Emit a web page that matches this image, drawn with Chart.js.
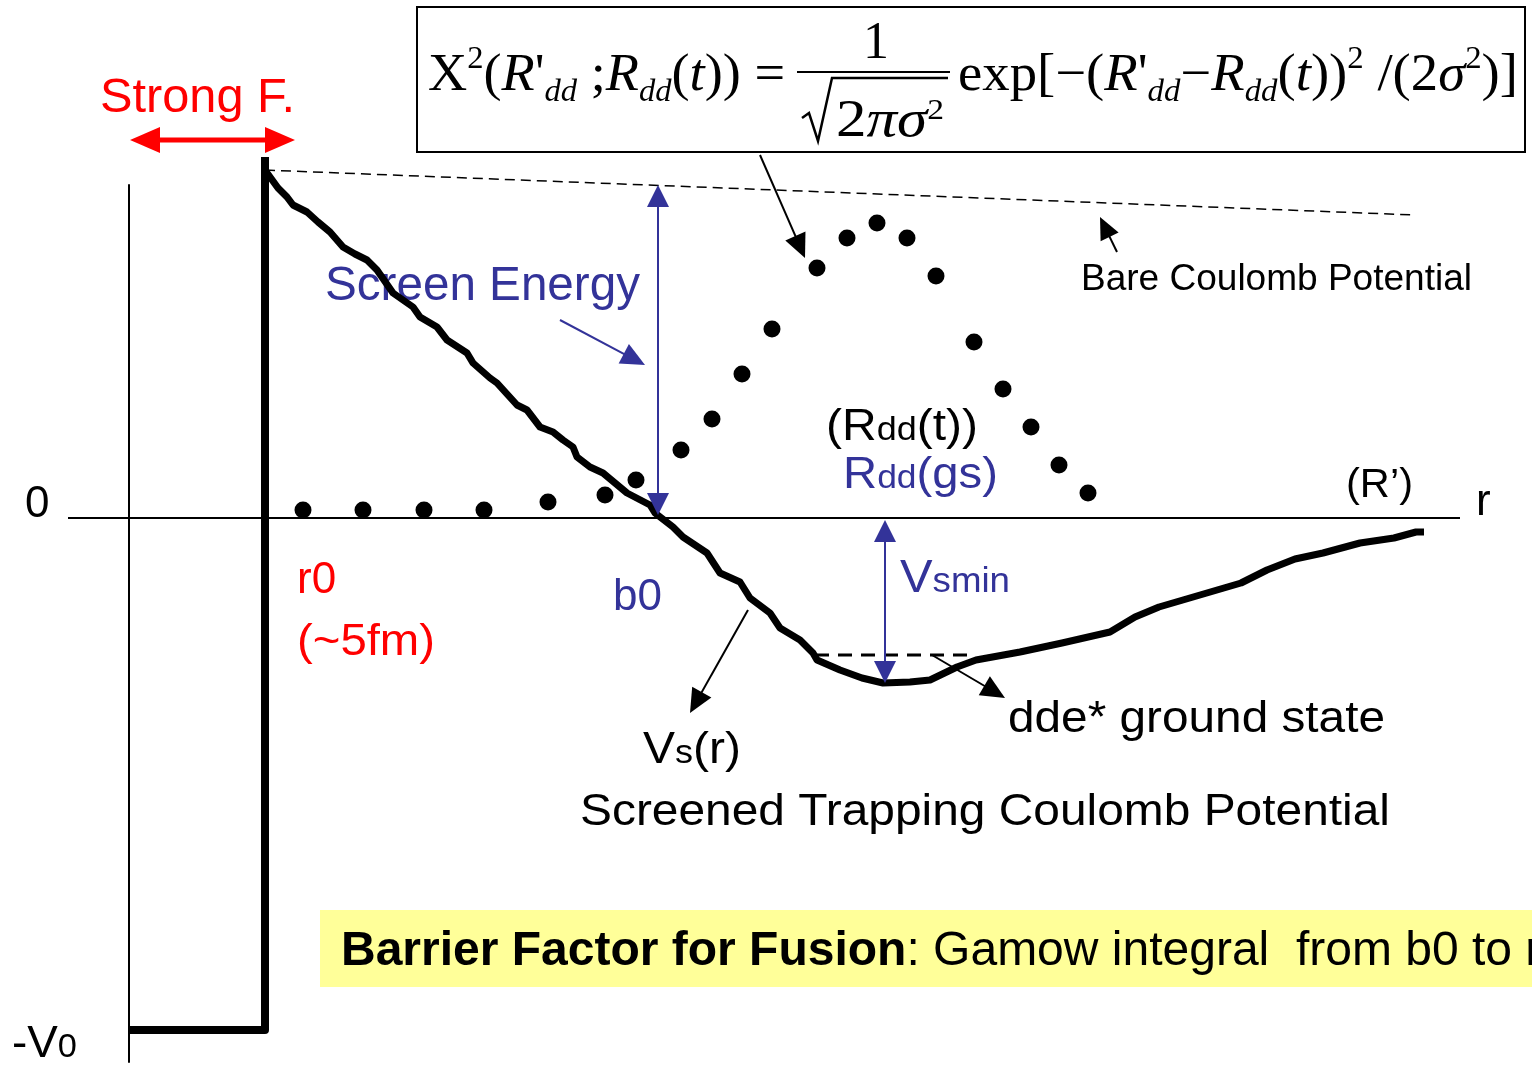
<!DOCTYPE html>
<html>
<head>
<meta charset="utf-8">
<script src="https://cdn.jsdelivr.net/npm/chart.js@4.4.1/dist/chart.umd.min.js"></script>
<style>
  html, body { margin: 0; padding: 0; background: #fff; }
  #wrap { width: 1532px; height: 1065px; position: relative; }
</style>
</head>
<body>
<div id="wrap"><canvas id="grafico"></canvas></div>
<script>
// r in drawing units, V with 0 on the r axis
const rAxis = [68, 1460];
const vAxis = [0, 0];

const wellR = [129, 129];
const wellV = [333, -544];

const boxR = [129, 265, 265];
const boxV = [-512, -512, 361];

const bareR = [265, 1415];
const bareV = [348, 303];

const vsR = [265, 270, 278, 287, 293, 307, 318, 330, 343, 355, 367, 377, 393, 413, 420, 437, 447, 467, 473, 490,
  497, 517, 527, 540, 553, 563, 573, 577, 590, 603, 627, 650, 655, 673, 683, 707, 720, 740, 750, 770,
  780, 800, 813, 817, 840, 862, 883, 910, 930, 957, 976, 1020, 1062, 1110, 1135, 1159, 1200, 1241, 1267, 1295,
  1323, 1360, 1394, 1416, 1424];
const vsV = [348, 341, 330, 321, 313, 306, 296, 286, 271, 264, 258, 248, 225, 211, 201, 191, 178, 165, 155, 140,
  135, 113, 108, 91, 86, 78, 71, 61, 51, 45, 25, 13, 5, -9, -19, -35, -55, -64, -80, -95,
  -110, -122, -135, -142, -152, -160, -165, -164, -162, -149, -142, -134, -125, -114, -99, -89, -77, -65, -52, -41,
  -35, -25, -20, -14, -14];

const gsR = [815, 975];
const gsV = [-137, -137];

const dotR = [303, 363, 424, 484, 548, 605, 636, 681, 712, 742, 772, 817, 847, 877, 907, 936, 974, 1003, 1031, 1059, 1088];
const dotV = [8, 8, 8, 8, 16, 23, 38, 68, 99, 144, 189, 250, 280, 295, 280, 242, 176, 129, 91, 53, 25];

function pts(xs, ys) {
    return xs.map(function (x, i) { return { x: x, y: ys[i] }; });
}

function linha(xs, ys, w, dash) {
    return {
        data: pts(xs, ys),
        showLine: true,
        borderColor: '#000',
        borderWidth: w,
        borderDash: dash || [],
        pointRadius: 0,
        tension: 0,
        borderJoinStyle: 'round',
        borderCapStyle: 'butt',
        fill: false
    };
}

const SANS = '"Liberation Sans", Arial, sans-serif';
const SERIF = '"Liberation Serif", "Times New Roman", serif';

// rich text: segs = [text, {sub, sup, it, b, s, dy}]
function rich(ctx, segs, x, y, size, color, fam, width) {
    function fnt(o) {
        let s = size * (o.s || ((o.sub || o.sup) ? 0.6 : 1));
        return (o.it ? 'italic ' : '') + (o.b ? 'bold ' : '') + s + 'px ' + fam;
    }
    let total = 0;
    segs.forEach(function (sg) {
        ctx.font = fnt(sg[1]);
        total += ctx.measureText(sg[0]).width;
    });
    ctx.save();
    ctx.translate(x, y);
    if (width) ctx.scale(width / total, 1);
    ctx.fillStyle = color;
    ctx.textBaseline = 'alphabetic';
    ctx.textAlign = 'left';
    let cx = 0;
    segs.forEach(function (sg) {
        const o = sg[1];
        ctx.font = fnt(o);
        let dy = o.sub ? size * 0.22 : (o.sup ? -size * 0.42 : (o.dy || 0) * size);
        ctx.fillText(sg[0], cx, dy);
        cx += ctx.measureText(sg[0]).width;
    });
    ctx.restore();
}

function seta(ctx, x1, y1, x2, y2, color, lw, hl, hw, both) {
    const a = Math.atan2(y2 - y1, x2 - x1);
    function cabeca(px, py, ang) {
        ctx.beginPath();
        ctx.moveTo(px, py);
        ctx.lineTo(px - hl * Math.cos(ang) + hw * Math.sin(ang), py - hl * Math.sin(ang) - hw * Math.cos(ang));
        ctx.lineTo(px - hl * Math.cos(ang) - hw * Math.sin(ang), py - hl * Math.sin(ang) + hw * Math.cos(ang));
        ctx.closePath();
        ctx.fill();
    }
    ctx.save();
    ctx.strokeStyle = color;
    ctx.fillStyle = color;
    ctx.lineWidth = lw;
    ctx.beginPath();
    ctx.moveTo(x1 + (both ? hl * 0.8 * Math.cos(a) : 0), y1 + (both ? hl * 0.8 * Math.sin(a) : 0));
    ctx.lineTo(x2 - hl * 0.8 * Math.cos(a), y2 - hl * 0.8 * Math.sin(a));
    ctx.stroke();
    cabeca(x2, y2, a);
    if (both) cabeca(x1, y1, a + Math.PI);
    ctx.restore();
}

const BLUE = '#333399';
const RED = '#ff0000';

const anotacoes = {
    id: 'anotacoes',
    beforeDatasetsDraw: function (chart) {
        const ctx = chart.ctx;
        const X = function (v) { return chart.scales.x.getPixelForValue(v); };
        const Y = function (v) { return chart.scales.y.getPixelForValue(v); };
        // yellow box
        ctx.save();
        ctx.fillStyle = '#ffff99';
        ctx.fillRect(X(320), Y(-392), X(1540) - X(320), Y(-469) - Y(-392));
        ctx.restore();
        rich(ctx, [['Barrier Factor for Fusion', { b: 1 }], [': Gamow integral  from b0 to r', {}]],
            X(341), Y(-447), 48, '#000', SANS);
        rich(ctx, [['Screen Energy', {}]], X(325), Y(218), 48, BLUE, SANS, X(640) - X(325));
    },
    afterDatasetsDraw: function (chart) {
        const ctx = chart.ctx;
        const X = function (v) { return chart.scales.x.getPixelForValue(v); };
        const Y = function (v) { return chart.scales.y.getPixelForValue(v); };

        // formula box
        ctx.save();
        ctx.strokeStyle = '#000';
        ctx.lineWidth = 2;
        ctx.strokeRect(X(417), Y(511), X(1525) - X(417), Y(366) - Y(511));
        ctx.restore();

        const fs = 52;
        rich(ctx, [['X', {}], ['2', { sup: 1 }], ['(', {}], ['R', { it: 1 }], ["'", {}], ['dd', { sub: 1, it: 1 }],
            [' ;', {}], ['R', { it: 1 }], ['dd', { sub: 1, it: 1 }], ['(', {}], ['t', { it: 1 }], ['))', {}], [' =', {}]],
            X(428), Y(428), fs, '#000', SERIF, X(785) - X(428));
        rich(ctx, [['1', {}]], X(863), Y(460), fs, '#000', SERIF);
        ctx.save();
        ctx.strokeStyle = '#000';
        ctx.lineWidth = 2;
        ctx.beginPath();
        ctx.moveTo(X(797), Y(446));
        ctx.lineTo(X(950), Y(446));
        ctx.stroke();
        ctx.lineWidth = 2.5;
        ctx.beginPath();
        ctx.moveTo(X(802), Y(400));
        ctx.lineTo(X(809), Y(405));
        ctx.lineTo(X(818), Y(377));
        ctx.lineTo(X(832), Y(440));
        ctx.lineTo(X(948), Y(440));
        ctx.stroke();
        ctx.restore();
        rich(ctx, [['2', {}], ['π', { it: 1 }], ['σ', { it: 1 }], ['2', { s: 0.55, dy: -0.32 }]],
            X(836), Y(382), fs, '#000', SERIF, X(944) - X(836));
        rich(ctx, [['exp[−(', {}], ['R', { it: 1 }], ["'", {}], ['dd', { sub: 1, it: 1 }], ['−', {}], ['R', { it: 1 }],
            ['dd', { sub: 1, it: 1 }], ['(', {}], ['t', { it: 1 }], ['))', {}], ['2', { sup: 1 }], [' /(2', {}],
            ['σ', { it: 1 }], ['2', { sup: 1 }], [')]', {}]],
            X(958), Y(428), fs, '#000', SERIF, X(1518) - X(958));

        // labels
        rich(ctx, [['Strong F.', {}]], X(100), Y(406), 48, RED, SANS, X(295) - X(100));
        rich(ctx, [['Bare Coulomb Potential', {}]], X(1081), Y(228), 37, '#000', SANS, X(1472) - X(1081));
        rich(ctx, [['(R', {}], ['dd', { s: 0.75 }], ['(t))', {}]], X(826), Y(78), 44, '#000', SANS, X(978) - X(826));
        rich(ctx, [['R', {}], ['dd', { s: 0.75 }], ['(gs)', {}]], X(843), Y(30), 44, BLUE, SANS, X(998) - X(843));
        rich(ctx, [['(R’)', {}]], X(1346), Y(21), 40, '#000', SANS, X(1413) - X(1346));
        rich(ctx, [['r', {}]], X(1476), Y(3), 44, '#000', SANS);
        rich(ctx, [['0', {}]], X(25), Y(1), 44, '#000', SANS);
        rich(ctx, [['-V', {}], ['0', { s: 0.75 }]], X(12), Y(-539), 44, '#000', SANS, X(77) - X(12));
        rich(ctx, [['r0', {}]], X(297), Y(-75), 44, RED, SANS);
        rich(ctx, [['(~5fm)', {}]], X(297), Y(-137), 44, RED, SANS, X(435) - X(297));
        rich(ctx, [['b0', {}]], X(613), Y(-92), 44, BLUE, SANS);
        rich(ctx, [['V', {}], ['smin', { s: 0.75 }]], X(900), Y(-74), 46, BLUE, SANS, X(1010) - X(900));
        rich(ctx, [['V', {}], ['s', { s: 0.75 }], ['(r)', {}]], X(643), Y(-245), 44, '#000', SANS, X(741) - X(643));
        rich(ctx, [['dde* ground state', {}]], X(1008), Y(-214), 44, '#000', SANS, X(1385) - X(1008));
        rich(ctx, [['Screened Trapping Coulomb Potential', {}]], X(580), Y(-307), 44, '#000', SANS, X(1390) - X(580));

        // arrows
        seta(ctx, X(130), Y(378), X(295), Y(378), RED, 5, 30, 13, true);
        seta(ctx, X(658), Y(3), X(658), Y(333), BLUE, 2, 22, 11, true);
        seta(ctx, X(560), Y(198), X(645), Y(153), BLUE, 2, 24, 11, false);
        seta(ctx, X(885), Y(-165), X(885), Y(-2), BLUE, 2, 22, 11, true);
        seta(ctx, X(760), Y(363), X(805), Y(260), '#000', 2, 24, 11, false);
        seta(ctx, X(1117), Y(266), X(1100), Y(301), '#000', 2, 22, 10, false);
        seta(ctx, X(748), Y(-92), X(690), Y(-195), '#000', 2, 24, 11, false);
        seta(ctx, X(932), Y(-137), X(1005), Y(-180), '#000', 2, 24, 11, false);
    }
};

document.addEventListener('DOMContentLoaded', function () {
    const ctx = document.getElementById('grafico');

    new Chart(ctx, {
        type: 'scatter',
        data: {
            datasets: [
                linha(rAxis, vAxis, 2),
                linha(wellR, wellV, 2),
                linha(bareR, bareV, 1.5, [10, 6]),
                linha(gsR, gsV, 3, [14, 9]),
                linha(boxR, boxV, 8),
                linha(vsR, vsV, 7),
                {
                    data: pts(dotR, dotV),
                    showLine: false,
                    pointRadius: 8.5,
                    pointBackgroundColor: '#000',
                    pointBorderWidth: 0
                }
            ]
        },
        options: {
            responsive: true,
            maintainAspectRatio: false,
            animation: false,
            layout: { padding: 0, autoPadding: false },
            plugins: {
                legend: { display: false },
                tooltip: { enabled: false }
            },
            scales: {
                x: { type: 'linear', display: false, min: 0, max: 1532 },
                y: { type: 'linear', display: false, min: -547, max: 518 }
            }
        },
        plugins: [anotacoes]
    });
});
</script>
</body>
</html>
